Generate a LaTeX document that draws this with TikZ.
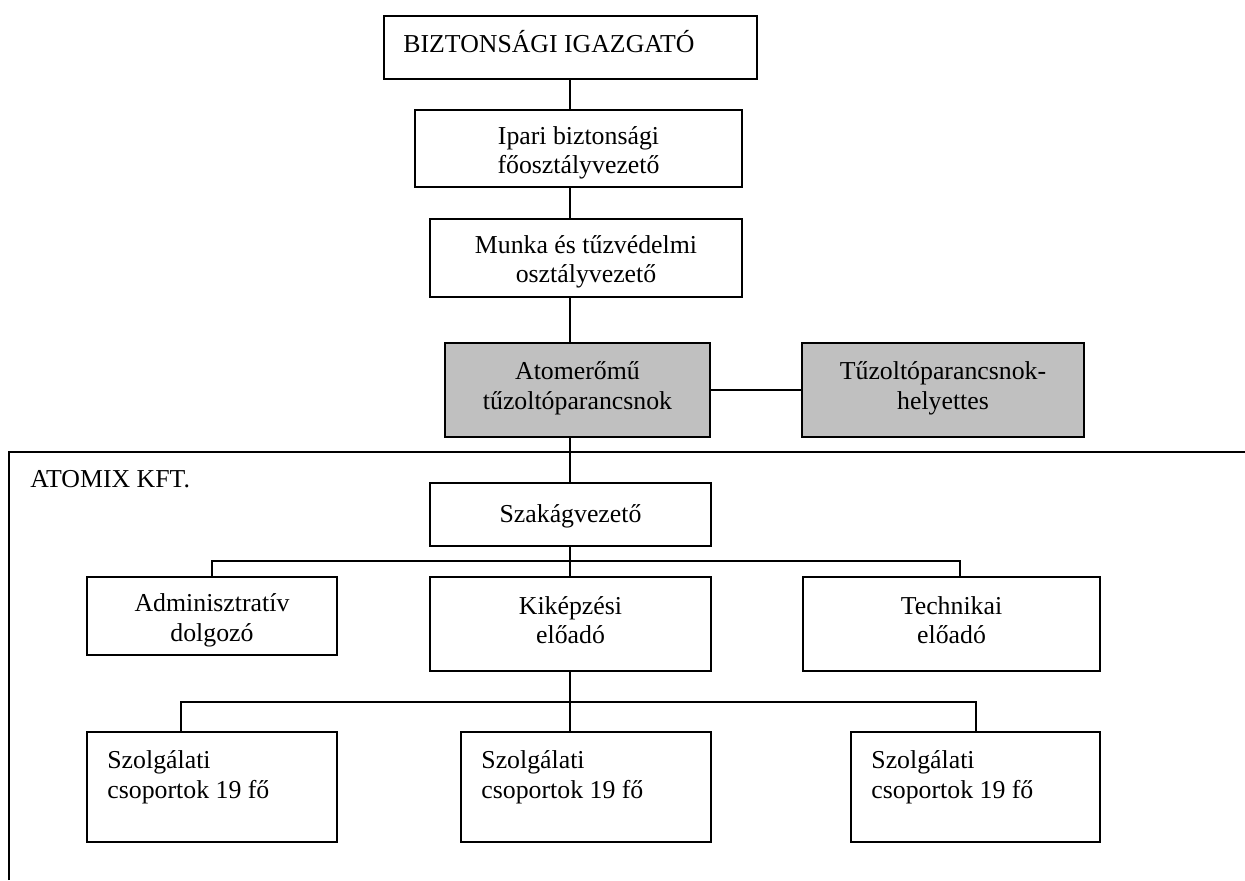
\documentclass[tikz,border=0pt]{standalone}
\usepackage{fontspec}
\setmainfont{Liberation Serif}
\definecolor{chartgrey}{RGB}{192,192,192}
\begin{document}
\begin{tikzpicture}[x=0.5pt,y=-0.5pt,
  box/.style={draw=black, line width=1.2pt, fill=white, inner sep=0pt},
  greybox/.style={box, fill=chartgrey},
  txt/.style={inner sep=0pt, align=center, font=\fontsize{12.9}{14.8}\selectfont},
  ltxt/.style={txt, align=left},
  link/.style={draw=black, line width=1pt}]
\useasboundingbox (0,0) rectangle (1245,880);

% company frame, open to the right and bottom
\draw[link] (9,880) -- (9,452) -- (1245,452);

% connector x positions and bus rows
\coordinate (sp) at (570,0);
\coordinate (xa) at (212,0);
\coordinate (xt) at (960,0);
\coordinate (xs1) at (181,0);
\coordinate (xs3) at (976,0);
\coordinate (bus1) at (0,561);
\coordinate (bus2) at (0,702);

% boxes
\node[box, minimum width=186.5pt, minimum height=31.5pt] (b1) at (570.5,47.5) {};
\node[box, minimum width=163.5pt, minimum height=38.5pt] (b2) at (578.5,148.5) {};
\node[box, minimum width=156pt, minimum height=39pt] (b3) at (586,258) {};
\node[greybox, minimum width=132.5pt, minimum height=47pt] (b4) at (577.5,390) {};
\node[greybox, minimum width=141pt, minimum height=47pt] (b5) at (943,390) {};
\node[box, minimum width=140.5pt, minimum height=31.5pt] (sz) at (570.5,514.5) {};
\node[box, minimum width=125pt, minimum height=39pt] (ad) at (212,616) {};
\node[box, minimum width=140.5pt, minimum height=47pt] (kk) at (570.5,624) {};
\node[box, minimum width=148.5pt, minimum height=47pt] (te) at (951.5,624) {};
\node[box, minimum width=125pt, minimum height=55pt] (s1) at (212,787) {};
\node[box, minimum width=125pt, minimum height=55pt] (s2) at (586,787) {};
\node[box, minimum width=124.5pt, minimum height=55pt] (s3) at (975.5,787) {};

% connectors
\draw[link] (b1.south -| sp) -- (b2.north -| sp);
\draw[link] (b2.south -| sp) -- (b3.north -| sp);
\draw[link] (b3.south -| sp) -- (b4.north -| sp);
\draw[link] (b4.east) -- (b5.west);
\draw[link] (b4.south -| sp) -- (sz.north -| sp);
\draw[link] (sz.south -| sp) -- (kk.north -| sp);
\draw[link] (ad.north -| xa) -- (xa |- bus1) -- (xt |- bus1) -- (te.north -| xt);
\draw[link] (kk.south -| sp) -- (s2.north -| sp);
\draw[link] (s1.north -| xs1) -- (xs1 |- bus2) -- (xs3 |- bus2) -- (s3.north -| xs3);

% labels
\node[txt, anchor=base west] (t1) at (403,52) {BIZTONSÁGI IGAZGATÓ};
\node[txt] (t2) at (578.5,153) {Ipari biztonsági\\főosztályvezető};
\node[txt] (t3) at (586,262) {Munka és tűzvédelmi\\osztályvezető};
\node[txt] (t4) at (577.5,388) {Atomerőmű\\tűzoltóparancsnok};
\node[txt] (t5) at (943,388) {Tűzoltóparancsnok-\\helyettes};
\node[txt, anchor=base west] (tx) at (30,487) {ATOMIX KFT.};
\node[txt] (tsz) at (570.5,516) {Szakágvezető};
\node[txt] (tad) at (212,620) {Adminisztratív\\dolgozó};
\node[txt] (tkk) at (570.5,620) {Kiképzési\\előadó};
\node[txt] (tte) at (951.5,620) {Technikai\\előadó};
\node[ltxt, anchor=west] (ts1) at (107,777) {Szolgálati\\csoportok 19 fő};
\node[ltxt, anchor=west] (ts2) at (481,777) {Szolgálati\\csoportok 19 fő};
\node[ltxt, anchor=west] (ts3) at (871,777) {Szolgálati\\csoportok 19 fő};
\end{tikzpicture}
\end{document}
